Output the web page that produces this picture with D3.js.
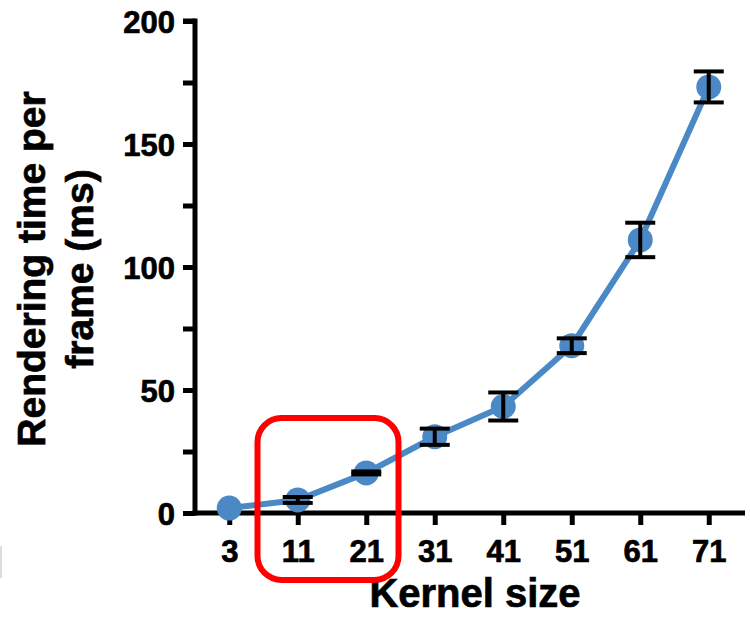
<!DOCTYPE html>
<html><head><meta charset="utf-8">
<script src="https://cdn.jsdelivr.net/npm/d3@7"></script>
<style>body{margin:0;background:#fff}svg{display:block}text{font-family:"Liberation Sans",Arial,Helvetica,sans-serif;font-weight:bold;fill:#000;stroke:#000;stroke-width:0.7px}</style>
</head><body>
<svg id="c" width="750" height="617"></svg>
<script>
const kernelSizes = ["3","11","21","31","41","51","61","71"];
const renderTime = [2, 5.3, 16.3, 31, 43.3, 68, 111, 173.2];
const errorSD = [0, 1.2, 0.6, 3.3, 5.7, 3, 7, 6.3];
const yTicks = [0, 50, 100, 150, 200];
const highlighted = ["11","21"];

const svg = d3.select("#c");
const x = d3.scalePoint().domain(kernelSizes).range([195, 743]).padding(0.5);
const y = d3.scaleLinear().domain([0, 200]).range([513, 21]);
const blue = "#4a88c6";

// axes
const yAx = svg.append("g").attr("transform","translate(195,0)")
  .call(d3.axisLeft(y).tickValues(d3.range(0,201,25)).tickSize(12).tickFormat(d => yTicks.includes(d) ? d : ""));
yAx.select(".domain").remove();
yAx.selectAll(".tick line").attr("stroke","#000").attr("stroke-width",5);
yAx.selectAll(".tick text").attr("font-size",31).attr("x",-20).attr("dy","0.36em").style("font-family","Liberation Sans, Arial, sans-serif").style("font-weight","bold").attr("fill","#000");

const xAx = svg.append("g").attr("transform","translate(0,513)")
  .call(d3.axisBottom(x).tickSize(12).tickSizeOuter(0));
xAx.select(".domain").remove();
xAx.selectAll(".tick line").attr("stroke","#000").attr("stroke-width",5);
xAx.selectAll(".tick text").attr("font-size",31).attr("y",27).attr("dy","0.71em").style("font-family","Liberation Sans, Arial, sans-serif").style("font-weight","bold").attr("fill","#000");

svg.append("line").attr("x1",195).attr("x2",195).attr("y1",y(200)-2.5).attr("y2",y(0)+2.5).attr("stroke","#000").attr("stroke-width",5);
svg.append("line").attr("x1",192.5).attr("x2",745).attr("y1",y(0)).attr("y2",y(0)).attr("stroke","#000").attr("stroke-width",5);
svg.append("line").attr("x1",183).attr("x2",195).attr("y1",y(200)).attr("y2",y(200)).attr("stroke","#000").attr("stroke-width",5);

// line
const data = kernelSizes.map((k,i)=>({k, v:renderTime[i], e:errorSD[i]}));
svg.append("path").datum(data)
  .attr("d", d3.line().x(d=>x(d.k)).y(d=>y(d.v)))
  .attr("fill","none").attr("stroke",blue).attr("stroke-width",6);
svg.selectAll("circle.pt").data(data).join("circle")
  .attr("cx",d=>x(d.k)).attr("cy",d=>y(d.v)).attr("r",12.5).attr("fill",blue);

// error bars
const eb = svg.append("g").attr("stroke","#000").attr("stroke-width",4);
data.filter(d=>d.e>0).forEach(d=>{
  const cx = x(d.k), hw = 15;
  eb.append("line").attr("x1",cx).attr("x2",cx).attr("y1",y(d.v+d.e)).attr("y2",y(d.v-d.e));
  eb.append("line").attr("x1",cx-hw).attr("x2",cx+hw).attr("y1",y(d.v+d.e)).attr("y2",y(d.v+d.e));
  eb.append("line").attr("x1",cx-hw).attr("x2",cx+hw).attr("y1",y(d.v-d.e)).attr("y2",y(d.v-d.e));
});

// axis titles
svg.append("text").attr("x",475).attr("y",607).attr("text-anchor","middle").attr("font-size",40).text("Kernel size");
const yt = svg.append("text").attr("transform","translate(0,269) rotate(-90)").attr("text-anchor","middle").attr("font-size",39);
yt.append("tspan").attr("x",0).attr("y",45).text("Rendering time per");
yt.append("tspan").attr("x",0).attr("y",93).text("frame (ms)");

// highlight box
const hx0 = x(highlighted[0]) - x.step()/2 - 6, hx1 = x(highlighted[1]) + x.step()/2 - 2;
svg.append("rect").attr("x",hx0).attr("y",418).attr("width",hx1-hx0).attr("height",162)
  .attr("rx",24).attr("fill","none").attr("stroke","#ff0000").attr("stroke-width",6);

// faint edge mark
svg.append("line").attr("x1",1).attr("x2",1).attr("y1",546).attr("y2",578).attr("stroke","#ddd").attr("stroke-width",2);
</script>
</body></html>
